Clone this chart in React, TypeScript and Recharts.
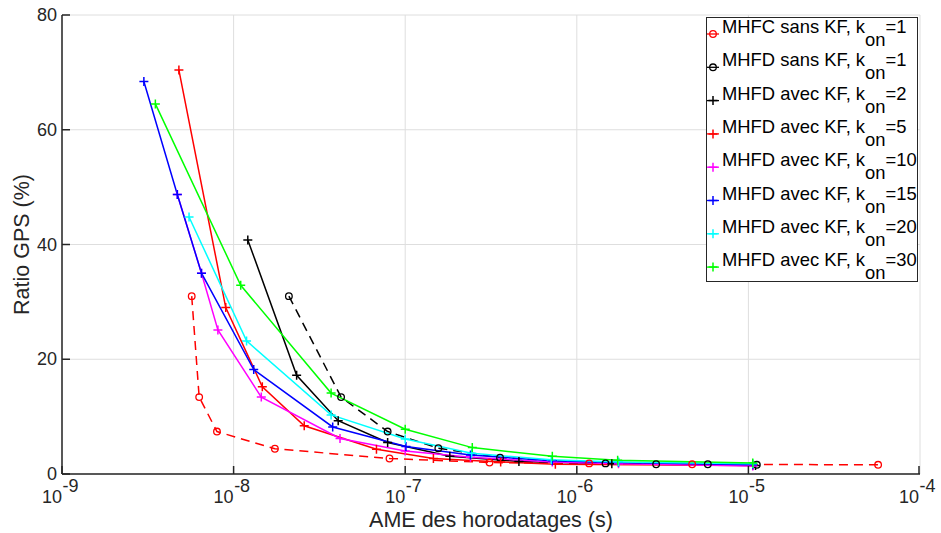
import { LineChart, Line, XAxis, YAxis, CartesianGrid } from 'recharts'

const xTicks = [1e-9, 1e-8, 1e-7, 1e-6, 1e-5, 1e-4]
const yTicks = [0, 20, 40, 60, 80]

// [AME (s), ratio GPS (%)]
const mhfcSansKf1 = [[5.7e-9, 31.0], [6.3e-9, 13.4], [8.0e-9, 7.4], [1.74e-8, 4.4], [8.1e-8, 2.7], [3.1e-7, 2.0], [1.18e-6, 1.85], [4.7e-6, 1.7], [5.7e-5, 1.6]]
const mhfdSansKf1 = [[2.1e-8, 31.0], [4.23e-8, 13.4], [7.9e-8, 7.4], [1.56e-7, 4.5], [3.57e-7, 2.85], [1.47e-6, 1.85], [2.9e-6, 1.7], [5.8e-6, 1.7], [1.12e-5, 1.6]]
const mhfdKf2 = [[1.21e-8, 40.8], [2.33e-8, 17.2], [4.07e-8, 9.3], [7.9e-8, 5.5], [1.82e-7, 3.1], [4.6e-7, 2.2], [1.6e-6, 1.8], [1.1e-5, 1.5]]
const mhfdKf5 = [[4.8e-9, 70.4], [9.0e-9, 29.0], [1.47e-8, 15.2], [2.58e-8, 8.4], [6.8e-8, 4.3], [1.46e-7, 2.7], [3.6e-7, 2.1], [7.5e-7, 1.7], [1.06e-5, 1.5]]
const mhfdKf10 = [[4.7e-9, 48.7], [6.5e-9, 35.0], [8.1e-9, 25.1], [1.45e-8, 13.4], [4.17e-8, 6.2], [1.0e-7, 4.0], [2.4e-7, 2.9], [7.2e-7, 2.1], [1.75e-6, 1.8], [1.06e-5, 1.4]]
const mhfdKf15 = [[3.0e-9, 68.4], [4.7e-9, 48.7], [6.5e-9, 35.0], [1.31e-8, 18.2], [3.78e-8, 8.2], [1.01e-7, 4.8], [2.4e-7, 3.3], [7.2e-7, 2.3], [1.75e-6, 2.0], [1.06e-5, 1.6]]
const mhfdKf20 = [[5.5e-9, 44.8], [1.19e-8, 23.2], [3.7e-8, 10.3], [1.0e-7, 6.1], [2.44e-7, 3.6], [7.1e-7, 2.5], [1.75e-6, 2.1], [1.06e-5, 1.8]]
const mhfdKf30 = [[3.5e-9, 64.5], [1.1e-8, 32.9], [3.7e-8, 14.1], [1.0e-7, 7.8], [2.46e-7, 4.6], [7.2e-7, 3.1], [1.73e-6, 2.4], [1.06e-5, 1.9]]

const series = [
  { name: 'MHFC sans KF, k', sub: 'on', tail: '=1', data: mhfcSansKf1, color: '#ff0000', mark: 'o', dash: true },
  { name: 'MHFD sans KF, k', sub: 'on', tail: '=1', data: mhfdSansKf1, color: '#000000', mark: 'o', dash: true },
  { name: 'MHFD avec KF, k', sub: 'on', tail: '=2', data: mhfdKf2, color: '#000000', mark: '+', dash: false },
  { name: 'MHFD avec KF, k', sub: 'on', tail: '=5', data: mhfdKf5, color: '#ff0000', mark: '+', dash: false },
  { name: 'MHFD avec KF, k', sub: 'on', tail: '=10', data: mhfdKf10, color: '#ff00ff', mark: '+', dash: false },
  { name: 'MHFD avec KF, k', sub: 'on', tail: '=15', data: mhfdKf15, color: '#0000ff', mark: '+', dash: false },
  { name: 'MHFD avec KF, k', sub: 'on', tail: '=20', data: mhfdKf20, color: '#00ffff', mark: '+', dash: false },
  { name: 'MHFD avec KF, k', sub: 'on', tail: '=30', data: mhfdKf30, color: '#00ff00', mark: '+', dash: false },
]

const AXIS = '#262626'
const FONT = '"Liberation Sans", Arial, Helvetica, sans-serif'

function Marker({ cx, cy, color, mark }: { cx: number; cy: number; color: string; mark: string }) {
  if (mark === 'o') return <circle cx={cx} cy={cy} r={3.3} fill="none" stroke={color} strokeWidth={1.3} />
  return <path d={`M${cx - 4.5},${cy}h9M${cx},${cy - 4.5}v9`} stroke={color} strokeWidth={1.5} fill="none" />
}

const makeDot = (color: string, mark: string) => (p: any) =>
  <Marker key={`${p.index}-${p.cx}`} cx={p.cx} cy={p.cy} color={color} mark={mark} />

function YTick({ x, y, payload }: any) {
  return (
    <g>
      <text x={x} y={y} textAnchor="end" dominantBaseline="central" fontSize={18} fill={AXIS} fontFamily={FONT}>{payload.value}</text>
      <line x1={x + 5} x2={x + 13} y1={y} y2={y} stroke={AXIS} strokeWidth={1.5} />
    </g>
  )
}

// "10" ends at the tick, the exponent is raised after it
function XTick({ x, y, payload }: any) {
  const exp = Math.round(Math.log10(payload.value))
  return (
    <g>
      <line x1={x} x2={x} y1={y} y2={y - 8} stroke={AXIS} strokeWidth={1.5} />
      <text x={x - 20} y={y + 29} textAnchor="start" fontSize={18} fill={AXIS} fontFamily={FONT}>
        10<tspan dx={0.5} dy={-11}>{exp}</tspan>
      </text>
    </g>
  )
}

function LegendBox() {
  return (
    <g fontFamily={FONT}>
      <rect x={706.5} y={17.5} width={211} height={264} fill="#fff" stroke={AXIS} strokeWidth={1} />
      {series.map((s, i) => {
        const yb = 33 + i * 33.3
        return (
          <g key={i}>
            <line x1={707} x2={719} y1={yb + 1} y2={yb + 1} stroke={s.color} strokeWidth={1.3} />
            <Marker cx={713} cy={yb + 1} color={s.color} mark={s.mark} />
            <text x={722} y={yb} fontSize={18.4} fill="#000">
              {s.name}<tspan dy={13}>{s.sub}</tspan><tspan dy={-13}>{s.tail}</tspan>
            </text>
          </g>
        )
      })}
    </g>
  )
}

export default function App() {
  return (
    <div style={{ position: 'absolute', left: 0, top: 0, background: '#fff', fontFamily: FONT }}>
      <LineChart width={941} height={533} margin={{ top: 15, right: 21, bottom: 0, left: 0 }}>
        <CartesianGrid stroke="#dedede" strokeWidth={1} />
        <XAxis
          dataKey="x" type="number" scale="log" domain={[1e-9, 1e-4]} ticks={xTicks} allowDataOverflow
          height={59} tickSize={0} tickMargin={0} tickLine={false} tick={<XTick />}
          axisLine={{ stroke: AXIS, strokeWidth: 1.5 }}
          label={{ value: 'AME des horodatages (s)', position: 'insideBottom', offset: 6, fontSize: 21.5, fill: AXIS, fontFamily: FONT }}
        />
        <YAxis
          type="number" domain={[0, 80]} ticks={yTicks} allowDataOverflow width={62}
          tickSize={0} tickMargin={5} tickLine={false} tick={<YTick />}
          axisLine={{ stroke: AXIS, strokeWidth: 1.5 }}
          label={{
            content: ({ viewBox }: any) => (
              <text transform={`translate(29,${viewBox.y + viewBox.height / 2}) rotate(-90)`} textAnchor="middle" fontSize={21.5} fill={AXIS} fontFamily={FONT}>Ratio GPS (%)</text>
            ),
          }}
        />
        {series.map((s, i) => (
          <Line
            key={i} data={s.data.map(([x, y]) => ({ x, y }))} dataKey="y" type="linear"
            stroke={s.color} strokeWidth={1.5} strokeDasharray={s.dash ? '9 6' : undefined}
            dot={makeDot(s.color, s.mark)} activeDot={false} isAnimationActive={false}
          />
        ))}
        <LegendBox />
      </LineChart>
    </div>
  )
}
